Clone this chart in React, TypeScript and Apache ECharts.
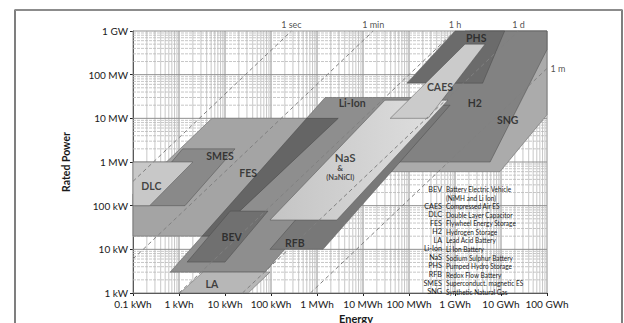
import React, { useEffect, useRef } from "react";
import * as echarts from "echarts";

// ---- axes (energy in kWh, power in kW) ----
const xTickLabels = ["0.1 kWh", "1 kWh", "10 kWh", "100 kWh", "1 MWh", "10 MWh", "100 MWh", "1 GWh", "10 GWh", "100 GWh"];
const yTickLabels = ["1 kW", "10 kW", "100 kW", "1 MW", "10 MW", "100 MW", "1 GW"];
const energyMin = 0.1;
const energyMax = 1e8;
const powerMin = 1;
const powerMax = 1e6;

// ---- discharge time lines (hours) ----
const timeNames = ["1 sec", "1 min", "1 h", "1 d", "1 m"];
const timeHours = [1 / 3600, 1 / 60, 1, 24, 720];

// ---- technology areas: vertices [energy kWh, power kW] ----
const SNG = [[2.1e6, 1e6], [3.2e9, 1e6], [9.5e6, 600], [3.9e4, 600]];
const H2 = [[1.65e6, 1e6], [1.6e8, 1e6], [5.8e6, 1000], [3.9e4, 1000]];
const PHS = [[1e6, 1e6], [1.2e7, 1e6], [4e6, 6.4e4], [9e4, 6.4e4]];
const FES = [[5.2, 1e4], [2900, 1e4], [5.5, 20], [0.011, 20]];
const LI_ION = [[1500, 3e4], [1.35e5, 3e4], [74, 3], [0.64, 3]];
const LA = [[3.3, 3], [95, 3], [32, 1], [1.05, 1]];
const RFB = [[5e4, 2e4], [7.8e5, 2e4], [1350, 10], [95, 10]];
const NAS = [[3e4, 2.6e4], [7e5, 2.6e4], [2700, 47], [95, 47]];
const CAES = [[1.65e6, 5e5], [4.5e6, 5e5], [2.6e5, 1e4], [3.9e4, 1e4]];
const SMES = [[1.2, 2000], [16.5, 2000], [1.35, 100], [0.11, 100]];
const DLC = [[0.03, 1000], [2, 1000], [0.23, 100], [0.004, 100]];
const BEV = [[13, 75], [86, 75], [10, 5.1], [1.5, 5.1]];

// ---- area labels [energy kWh, power kW] ----
const areaLabels = ["PHS", "CAES", "H2", "SNG", "Li-Ion", "NaS", "&", "(NaNiCl)", "SMES", "DLC", "FES", "BEV", "RFB", "LA"];
const areaLabelEnergy = [2.9e6, 4.7e5, 2.7e6, 1.4e7, 5800, 4100, 3200, 3200, 7.8, 0.25, 32, 14, 330, 5.2];
const areaLabelPower = [6.8e5, 5.2e4, 2.2e4, 9.1e3, 2.2e4, 1300, 730, 450, 1370, 280, 560, 19, 14, 1.6];

// ---- legend ----
const legendAbbr = ["BEV", "", "CAES", "DLC", "FES", "H2", "LA", "Li-Ion", "NaS", "PHS", "RFB", "SMES", "SNG"];
const legendDesc = [
  "Battery Electric Vehicle",
  "(NiMH and Li Ion)",
  "Compressed Air ES",
  "Double Layer Capacitor",
  "Flywheel Energy Storage",
  "Hydrogen Storage",
  "Lead Acid Battery",
  "Li Ion Battery",
  "Sodium Sulphur Battery",
  "Pumped Hydro Storage",
  "Redox Flow Battery",
  "Superconduct. magnetic ES",
  "Synthetic Natural Gas",
];

type Rect = { x: number; y: number; width: number; height: number };

function clipPolygon(points: number[][], r: Rect): number[][] {
  const x0 = r.x, x1 = r.x + r.width, y0 = r.y, y1 = r.y + r.height;
  const bounds = [
    { inside: (p: number[]) => p[0] >= x0, cut: (a: number[], b: number[]) => { const t = (x0 - a[0]) / (b[0] - a[0]); return [x0, a[1] + t * (b[1] - a[1])]; } },
    { inside: (p: number[]) => p[0] <= x1, cut: (a: number[], b: number[]) => { const t = (x1 - a[0]) / (b[0] - a[0]); return [x1, a[1] + t * (b[1] - a[1])]; } },
    { inside: (p: number[]) => p[1] >= y0, cut: (a: number[], b: number[]) => { const t = (y0 - a[1]) / (b[1] - a[1]); return [a[0] + t * (b[0] - a[0]), y0]; } },
    { inside: (p: number[]) => p[1] <= y1, cut: (a: number[], b: number[]) => { const t = (y1 - a[1]) / (b[1] - a[1]); return [a[0] + t * (b[0] - a[0]), y1]; } },
  ];
  let out = points;
  for (const b of bounds) {
    const input = out;
    out = [];
    if (!input.length) break;
    for (let i = 0; i < input.length; i++) {
      const cur = input[i];
      const prev = input[(i + input.length - 1) % input.length];
      const ci = b.inside(cur), pi = b.inside(prev);
      if (ci) {
        if (!pi) out.push(b.cut(prev, cur));
        out.push(cur);
      } else if (pi) {
        out.push(b.cut(prev, cur));
      }
    }
  }
  return out;
}

export default function App() {
  const ref = useRef<HTMLDivElement>(null);

  useEffect(() => {
    if (!ref.current) return;
    const chart = echarts.init(ref.current, null, { renderer: "svg" });
    const font = "Lato, 'Open Sans', sans-serif";

    const stroke = "rgba(70,70,70,0.75)";
    const areas: { pts: number[][]; fill: any }[] = [
      { pts: SNG, fill: "#ababab" },
      { pts: H2, fill: "#828282" },
      { pts: PHS, fill: "#6b6b6b" },
      { pts: FES, fill: "#a4a4a4" },
      { pts: LI_ION, fill: "rgba(50,50,50,0.55)" },
      { pts: LA, fill: "#b7b7b7" },
      { pts: RFB, fill: "#787878" },
      {
        pts: NAS,
        fill: new echarts.graphic.LinearGradient(0, 0, 1, 0, [
          { offset: 0, color: "#c4c4c4" },
          { offset: 1, color: "#e0e0e0" },
        ]),
      },
      { pts: CAES, fill: "#cbcbcb" },
      { pts: SMES, fill: "#898989" },
      { pts: DLC, fill: "#c8c8c8" },
      { pts: BEV, fill: "#707070" },
    ];

    // log grid lines
    const gridData: number[][] = [];
    for (let k = -1; k <= 7; k++) {
      for (let m = 1; m <= 9; m++) gridData.push([m * Math.pow(10, k), 1, 0, m === 1 ? 1 : 0]);
    }
    gridData.push([energyMax, 1, 0, 1]);
    for (let k = 0; k <= 5; k++) {
      for (let m = 1; m <= 9; m++) gridData.push([energyMin, m * Math.pow(10, k), 1, m === 1 ? 1 : 0]);
    }
    gridData.push([energyMin, powerMax, 1, 1]);

    const makeArea = (mask: boolean) => (params: any, api: any) => {
      const a = areas[params.dataIndex];
      const pts = a.pts.map((v) => api.coord(v));
      const clipped = clipPolygon(pts, params.coordSys);
      return {
        type: "polygon",
        shape: { points: clipped },
        style: mask
          ? { fill: "#ffffff", stroke: "none" }
          : { fill: a.fill, stroke, lineWidth: 0.6 },
      };
    };

    const timeLines = timeHours.map((t) => {
      const pStart = Math.max(powerMin, energyMin / t);
      const pEnd = Math.min(powerMax, energyMax / t);
      return {
        type: "line",
        data: [[pStart * t, pStart], [pEnd * t, pEnd]],
        symbol: "none",
        silent: true,
        z: 4,
        lineStyle: { color: "#808080", width: 1, type: [4, 3] },
      };
    });

    const timeLabelData = timeHours.map((t, i) => {
      const pEnd = Math.min(powerMax, energyMax / t);
      return {
        value: [pEnd * t, pEnd],
        label: {
          show: true,
          formatter: timeNames[i],
          position: pEnd < powerMax ? "right" : "top",
          distance: pEnd < powerMax ? 3 : 2,
        },
      };
    });

    const labelSizes: Record<string, number> = { "&": 8, "(NaNiCl)": 7.5, NaS: 11.5 };
    const areaLabelData = areaLabels.map((txt, i) => ({
      value: [areaLabelEnergy[i], areaLabelPower[i]],
      label: {
        show: true,
        position: "inside",
        formatter: txt,
        fontSize: labelSizes[txt] ?? 10.5,
      },
    }));

    const legendY0 = 189;
    const legendStep = 8.55;
    const legendGraphics: any[] = [];
    legendAbbr.forEach((ab, i) => {
      const y = legendY0 + i * legendStep;
      if (ab)
        legendGraphics.push({
          type: "text",
          x: 442,
          y,
          z: 20,
          style: { text: ab, fill: "#1a1a1a", fontSize: 7.2, fontFamily: font, align: "right", verticalAlign: "middle" },
        });
      legendGraphics.push({
        type: "text",
        x: 446,
        y,
        z: 20,
        scaleX: 0.9,
        style: { text: legendDesc[i], fill: "#1a1a1a", fontSize: 7.2, fontFamily: font, align: "left", verticalAlign: "middle" },
      });
    });

    const option: any = {
      animation: false,
      backgroundColor: "#ffffff",
      textStyle: { fontFamily: font },
      grid: { left: 133, top: 31, width: 414, height: 262, containLabel: false },
      xAxis: {
        type: "log",
        logBase: 10,
        min: energyMin,
        max: energyMax,
        axisLine: { show: true, lineStyle: { color: "#222", width: 1 } },
        axisTick: { show: true, length: 3, lineStyle: { color: "#222" } },
        axisLabel: {
          margin: 6,
          color: "#1a1a1a",
          fontSize: 10,
          fontFamily: font,
          formatter: (v: number) => xTickLabels[Math.round(Math.log10(v)) + 1] ?? "",
        },
        splitLine: { show: false },
      },
      yAxis: {
        type: "log",
        logBase: 10,
        min: powerMin,
        max: powerMax,
        name: "Rated Power",
        nameLocation: "middle",
        nameGap: 62,
        nameRotate: 90,
        nameTextStyle: { color: "#1a1a1a", fontSize: 10.5, fontWeight: "bold", fontFamily: font },
        axisLine: { show: true, lineStyle: { color: "#222", width: 1 } },
        axisTick: { show: true, length: 3, lineStyle: { color: "#222" } },
        axisLabel: {
          margin: 5,
          color: "#1a1a1a",
          fontSize: 10,
          fontFamily: font,
          formatter: (v: number) => yTickLabels[Math.round(Math.log10(v))] ?? "",
        },
        splitLine: { show: false },
      },
      series: [
        {
          type: "custom",
          name: "grid",
          silent: true,
          z: 1,
          encode: { x: 0, y: 1 },
          data: gridData,
          renderItem: (params: any, api: any) => {
            const d = gridData[params.dataIndex];
            const major = d[3] === 1;
            const p1 = d[2] === 0 ? api.coord([d[0], powerMin]) : api.coord([energyMin, d[1]]);
            const p2 = d[2] === 0 ? api.coord([d[0], powerMax]) : api.coord([energyMax, d[1]]);
            return {
              type: "line",
              shape: { x1: p1[0], y1: p1[1], x2: p2[0], y2: p2[1] },
              style: {
                stroke: major ? "#8f8f8f" : "#b9b9b9",
                lineWidth: major ? 1 : 0.8,
                lineDash: d[2] === 1 && !major ? [3, 1] : null,
              },
            };
          },
        },
        {
          type: "custom",
          name: "mask",
          silent: true,
          z: 2,
          encode: { x: 0, y: 1 },
          data: areas.map((a, i) => [a.pts[0][0], a.pts[0][1], i]),
          renderItem: makeArea(true),
        },
        {
          type: "custom",
          name: "areas",
          silent: true,
          z: 3,
          encode: { x: 0, y: 1 },
          data: areas.map((a, i) => [a.pts[0][0], a.pts[0][1], i]),
          renderItem: makeArea(false),
        },
        ...timeLines,
        {
          type: "scatter",
          name: "timeLabels",
          silent: true,
          z: 5,
          symbolSize: 1,
          itemStyle: { color: "rgba(0,0,0,0)" },
          label: { color: "#222", fontSize: 9, fontFamily: font },
          data: timeLabelData,
        },
        {
          type: "scatter",
          name: "areaLabels",
          silent: true,
          z: 6,
          symbolSize: 1,
          itemStyle: { color: "rgba(0,0,0,0)" },
          label: { color: "#1e1e1e", fontWeight: "bold", fontFamily: font },
          data: areaLabelData,
        },
      ],
      graphic: [
        {
          type: "rect",
          z: 30,
          silent: true,
          shape: { x: 15, y: 10, width: 607, height: 340 },
          style: { fill: "none", stroke: "#2a2a2a", lineWidth: 1.2 },
        },
        {
          type: "line",
          z: 31,
          silent: true,
          shape: { x1: 15, y1: 10, x2: 622, y2: 10 },
          style: { stroke: "#8c8c8c", lineWidth: 2 },
        },
        {
          type: "text",
          x: 356,
          y: 318,
          z: 20,
          style: { text: "Energy", fill: "#1a1a1a", fontSize: 11, fontWeight: "bold", fontFamily: font, align: "center", verticalAlign: "middle" },
        },
        ...legendGraphics,
      ],
    };

    chart.setOption(option);
    return () => chart.dispose();
  }, []);

  return <div ref={ref} style={{ position: "fixed", left: 0, top: 0, width: 624, height: 323 }} />;
}
